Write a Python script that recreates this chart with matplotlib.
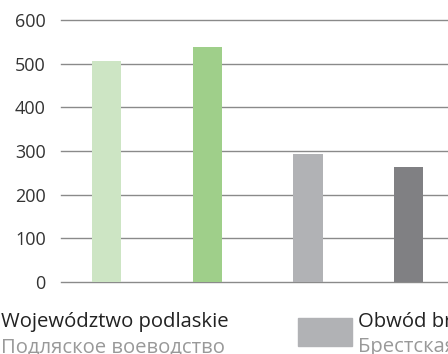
import matplotlib.pyplot as plt
from matplotlib.patches import Rectangle

plt.rcParams['font.family'] = ['Open Sans', 'DejaVu Sans']

# values per bar, left to right
values = [507, 539, 294, 264]
colors = ['#cde5c4', '#9fcf8a', '#b1b2b5', '#808083']
yticks = [0, 100, 200, 300, 400, 500, 600]

legend_pl = ['Województwo podlaskie', 'Obwód brzeski']
legend_ru = ['Подляское воеводство', 'Брестская область']

W, H = 448, 354
fig = plt.figure(figsize=(W / 100, H / 100), dpi=100)
ax = fig.add_axes([61 / W, (H - 282) / H, 1 - 61 / W, (282 - 20) / H])

xs = range(len(values))
ax.bar(xs, values, width=0.29, color=colors, zorder=3)

ax.set_xlim(-0.452, 3.391)
ax.set_ylim(0, 600)
ax.set_yticks(yticks)
ax.set_xticks([])
ax.tick_params(axis='y', length=0, pad=11, labelsize=13, labelcolor='#333333')
ax.grid(axis='y', color='#8a8a8a', linewidth=1.0, zorder=0)
for line in ax.get_ygridlines():
    line.set_clip_on(False)
for s in ax.spines.values():
    s.set_visible(False)

# legend drawn by hand below the axes
fs = 14.6
fig.text(1 / W, (H - 327) / H, legend_pl[0], fontsize=fs, color='#222222')
fig.text(1 / W, (H - 352) / H, legend_ru[0], fontsize=fs, color='#999999')
fig.patches.append(Rectangle((298 / W, (H - 346) / H), 54 / W, 28 / H,
                             transform=fig.transFigure, color=colors[2]))
fig.text(358 / W, (H - 327) / H, legend_pl[1], fontsize=fs, color='#222222')
fig.text(358 / W, (H - 352) / H, legend_ru[1], fontsize=fs, color='#999999')

fig.savefig('out.png', dpi=100)
